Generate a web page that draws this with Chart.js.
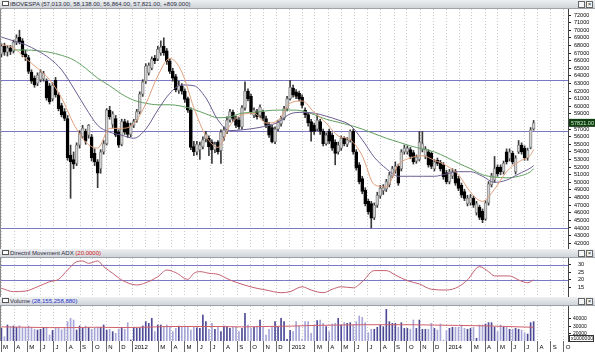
<!DOCTYPE html>
<html>
<head>
<meta charset="utf-8">
<title>IBOVESPA weekly</title>
<script src="https://cdn.jsdelivr.net/npm/chart.js@4.4.2/dist/chart.umd.min.js"></script>
<style>
  html, body { margin: 0; padding: 0; background: #fff; }
  body { width: 595px; height: 352px; position: relative; overflow: hidden; font-family: 'Liberation Sans', Arial, sans-serif; }
  .hdr { position: absolute; left: 0; width: 595px; height: 8px; background: linear-gradient(#eef0f2, #d0d4d8); border-bottom: 1px solid #9ea3a8; font-size: 6px; line-height: 8px; color: #2c2c44; white-space: nowrap; }
  .hdr .ico { display: inline-block; width: 5px; height: 3px; border: 1px solid #555; background: #fff; margin: 0 1px 0 2px; vertical-align: 0; }
  .hdr .btn { position: absolute; top: 1px; width: 5px; height: 5px; border: 1px solid #666; background: #f6f6f6; font-size: 6px; line-height: 5px; text-align: center; color: #222; }
  .red { color: #d02020; }
  .blue { color: #2233cc; }
  canvas { position: absolute; left: 0; }
</style>
</head>
<body>
<div class="hdr" style="top:0"><span class="ico"></span>IBOVESPA (57,013.00, 58,138.00, 56,864.00, 57,821.00, +809.000)<span class="btn" style="left:578px"></span><span class="btn" style="left:586px">×</span></div>
<canvas id="priceChart" width="595" height="240" style="top:9px"></canvas>
<div class="hdr" style="top:249px"><span class="ico"></span>Directnl Movement ADX <span class="red">(20.0000)</span><span class="btn" style="left:578px"></span><span class="btn" style="left:586px">×</span></div>
<canvas id="adxChart" width="595" height="39" style="top:258px"></canvas>
<div class="hdr" style="top:297px"><span class="ico"></span>Volume <span class="blue">(28,155,258,880)</span><span class="btn" style="left:578px"></span><span class="btn" style="left:586px">×</span></div>
<canvas id="volumeChart" width="595" height="46" style="top:306px"></canvas>

<script>
// weekly candles, first week starts Mon 28 Feb 2011
const opens = [
  66900,67900,67100,67700,67300,68400,69100,68600,66900,66400,
  64500,63700,63000,63500,63600,63300,62700,61000,63400,61500,
  60100,59300,58400,53600,53000,52500,54900,56000,56700,56200,
  56000,53800,52700,51800,54000,55100,59500,57600,58400,56600,
  55000,58000,57800,56300,57500,58200,59300,61600,63300,64400,
  65000,66300,66200,67000,67900,67300,65900,64600,63900,62100,
  62700,62000,61000,59500,54700,54000,54300,54700,55700,55800,
  55300,54300,55300,54200,56000,56700,58200,59200,58400,58200,
  57300,59800,62000,61300,58800,59300,58800,59200,58400,57600,
  57200,55300,57000,57700,58400,59700,61000,62400,61900,61700,
  61200,59500,58900,58000,57500,57000,58000,56700,55100,56700,
  56200,55300,54000,54500,55800,55000,55600,56700,54000,52300,
  50500,49000,47500,47200,45400,47000,48200,48900,49100,49700,
  50800,51600,52100,51800,54000,54000,54300,53900,52800,53000,
  54300,53400,54000,53800,51800,52900,52600,52300,51300,50100,
  50800,51400,50500,49600,48800,47200,47300,47900,46000,46700,
  46200,45200,47300,49700,50300,52000,52000,51400,54000,53100,
  53800,51400,54000,54900,54500,53200,54600,57013
];
const highs = [
  68200,68300,68000,68000,68700,69400,70000,68900,67400,66700,
  64800,64000,64400,64800,64600,63600,63000,63100,63800,61800,
  60400,59700,58800,54900,54000,55200,56800,57500,57000,57600,
  56300,54400,53000,54300,55500,59700,60000,59300,58800,56900,
  58300,58300,58100,57800,58300,59600,61900,63500,65600,65700,
  66500,66700,67900,68600,69000,67600,66200,65000,64200,63300,
  63000,62300,61200,59800,55400,55400,55300,56000,56700,56100,
  55600,55300,55500,56900,57300,58600,59600,59500,58700,58500,
  60100,63200,62300,61600,59800,59600,60200,59500,58700,57900,
  57500,57300,58200,58700,60000,61300,63400,62800,62200,62000,
  61500,59800,59200,58300,57800,58900,58300,57000,56500,57000,
  56500,55600,55300,56100,56000,55900,56900,57000,54300,52600,
  50800,49300,47800,47500,47300,48700,49600,49700,50400,51300,
  52100,52700,52400,54300,54900,54800,54600,54200,53600,56700,
  56700,54700,54300,54000,53000,53200,52900,52600,51600,51700,
  51800,51700,50800,49900,49100,48300,48400,48200,47500,47000,
  46500,47600,50100,51200,53400,52300,52300,52800,54400,54400,
  54100,53500,55500,55200,54800,54500,57200,58138
];
const lows = [
  66500,66700,66600,66800,67000,68100,68200,66500,66000,64300,
  63000,62500,62700,63200,63300,60800,60300,60700,61200,59400,
  58600,58100,52900,47900,51800,52200,54500,55800,55000,55800,
  52800,52200,49300,51200,53700,54900,58300,57200,56000,54600,
  54800,56300,55900,56000,57200,57900,59000,61300,63000,64100,
  64800,65600,66000,66700,66700,65500,64300,63300,61900,61700,
  61600,60500,59200,54300,53500,53600,53000,54400,55300,53500,
  52500,53900,53700,52500,55500,56400,57900,58000,57200,57000,
  57000,59500,60700,59000,58500,58300,58500,58100,57200,55900,
  55200,55100,56800,57400,58200,59400,60800,61200,61000,60700,
  59800,58500,57400,55400,56300,56800,56300,54800,54900,55100,
  54200,52300,53700,54200,54800,54700,55300,53700,51600,49800,
  48500,46900,45800,44000,45100,46700,47900,48400,48800,49400,
  50600,51200,49600,51500,53700,53700,53100,52400,52500,52800,
  54000,53100,52000,51800,51500,52200,51500,50400,49800,49800,
  50500,49600,48900,48000,47600,46900,47000,46700,45700,45100,
  44700,45000,47000,49400,50000,50800,51000,51100,52400,52800,
  52400,51100,53800,53700,52900,52900,54400,56864
];
const closes = [
  67900,67100,67700,67200,68400,69000,68500,66800,66500,64600,
  63300,62800,64100,64500,64300,61100,60600,62800,61500,59700,
  58900,58400,53200,52700,52400,54900,56400,57100,55400,57500,
  53200,52700,51200,54000,55100,59500,58600,59000,56200,54900,
  58000,56600,56300,57500,58000,59300,61600,63200,65300,65400,
  66200,66000,67500,67800,67000,65900,64600,63700,62200,62800,
  62000,60900,59500,54600,54000,55000,54900,55600,56300,54700,
  54300,55000,54000,56600,56900,58200,59300,58400,57500,57300,
  59800,62000,61000,59300,59500,58600,59900,58400,57500,56200,
  55300,57000,57900,58400,59700,61000,62500,61500,61300,61000,
  60100,58900,57800,56700,56700,58200,56700,55100,56200,55400,
  54500,53800,54900,55800,55100,55600,56700,54000,51900,50100,
  48800,47200,46100,45300,47000,48300,49200,49300,50100,51000,
  51800,52100,49900,54000,54500,54500,53400,52700,53300,55300,
  55100,54400,52300,52100,52700,52500,51800,50700,50100,51400,
  51400,49900,49200,48300,47900,47900,48000,47000,47200,45400,
  45100,47300,49800,50900,51800,51100,51400,52500,52700,54000,
  52700,53200,54900,54000,53200,54200,56900,57821
];
// weekly volume, millions
const volumes = [
  27000,15300,31600,29000,30200,28400,30600,27500,28400,30200,
  28400,25600,24600,25600,27000,28400,17600,24000,26900,26900,
  25000,26900,36300,40900,38600,24600,30200,26900,30200,28400,
  25600,27000,28400,28400,31600,24600,25600,22300,20000,26000,
  28400,25600,34900,10600,28400,26900,27500,30200,36300,33900,
  40900,22300,31600,31600,29000,31600,28400,22300,26900,30200,
  28400,30200,28400,24600,28400,27500,26900,45600,36300,25600,
  34000,25600,28400,22300,30200,29300,27000,28400,28400,22300,
  26900,47900,31600,26900,28400,30000,38600,28400,17600,25600,
  28400,36300,29300,40900,36300,11600,24000,22300,36300,30200,
  12000,36300,36300,19900,31600,37700,38600,33900,29300,22300,
  33000,33900,40900,31600,34900,33900,34900,31600,36300,44200,
  42300,34900,20900,25600,25600,28400,31600,29300,53500,36300,
  33900,33900,28400,34900,26900,26900,25600,38600,26900,38600,
  25600,25600,25600,33900,26900,24600,33000,10600,23700,26900,
  28400,28400,28400,31600,26900,25600,26900,28400,13000,31600,
  31600,33000,34900,34900,28400,22300,31600,28400,28400,25600,
  25600,26900,25600,24600,20900,19000,34900,36300
];

// moving averages every 4 weeks
const maWeeks = [0,4,8,12,16,20,24,28,32,36,40,44,48,52,56,60,64,68,72,76,80,84,88,92,96,100,104,108,112,116,120,124,128,132,136,140,144,148,152,156,160,164,168,172,176,177];
const maFast = [68100,67700,66300,65000,63500,61100,57700,55300,54500,57100,57100,57700,60300,64000,66300,64500,59800,56100,54600,57500,58900,59100,57800,58100,60400,60700,59200,57800,56100,55600,53500,49700,49400,52300,53200,53500,52900,52200,51000,48700,47500,49100,51400,52700,53600,54300];
const maMid = [69100,68600,68100,67300,66300,64800,62400,59800,57500,56600,56200,55800,57000,59500,61700,62800,62700,61100,58200,56800,56900,57100,57400,57900,59000,59200,59100,58700,58200,57500,55600,53300,51800,50800,50800,50800,50800,51100,51400,51400,50800,50000,50300,51100,51900,52200];
const maSlow = [null,67400,67400,67300,67100,66700,66100,65000,63700,62700,61600,60800,60400,60200,60200,60000,59600,59000,58500,58600,59100,59200,59400,59500,59500,59400,58900,58300,57900,57500,57000,56400,55800,55300,54800,54400,54000,53300,52500,51800,51000,50700,50600,50800,51400,51800];

const adxWeeks = [0,4,8,12,16,19,22,25,27,29,32,34,37,40,45,48,52,55,58,62,64,66,69,72,76,80,84,88,93,96,100,103,107,110,113,117,120,124,128,131,135,139,143,148,152,155,159,162,164,169,172,175,177];
const adxValues = [14.3,12,12.4,15.3,18.7,20.3,26.6,32.2,32.7,31.1,32.7,28.9,24.4,19.9,16.5,18,22.1,26.6,24.8,20.3,24.4,25.5,24.4,23.7,19.9,17,14.7,13.1,11.3,12,15.3,13.1,11.3,13.6,15.3,14.6,18.7,26.2,26.2,23.2,19.4,17.2,13.6,13.1,15.3,20,28.9,25.5,22.6,22.6,19.9,18,20];

const volMaWeeks = [0,8,16,24,32,40,48,56,64,72,80,88,96,104,112,120,128,136,144,152,160,168,176,177];
const volMaValues = [29000,28500,28000,28000,28500,28000,28500,29500,29500,29500,29000,29500,30000,31000,31500,32000,32000,32000,31500,31000,30500,29500,28500,28400];

const priceLevels = [63400, 56750, 44000];
const adxLevels = [30, 20];
const priceTicks = [42000,43000,44000,45000,46000,47000,48000,49000,50000,51000,52000,53000,54000,55000,56000,57000,58000,59000,60000,61000,62000,63000,64000,65000,66000,67000,68000,69000,70000,71000,72000];
const adxTicks = [15, 20, 25, 30];
const volumeTicks = [20000, 30000, 40000];
const monthLetters = ['J','F','M','A','M','J','J','A','S','O','N','D'];

const FONT = 'Liberation Sans';
const DAY0 = Date.UTC(2011, 2, 1);
const WEEK0 = Date.UTC(2011, 1, 28);
const X_MAX = 1320;
const dayOf = w => (WEEK0 + (w * 7 + 2) * 864e5 - DAY0) / 864e5;

const months = [];
for (let k = 0; k < 44; k++) {
  const d = new Date(Date.UTC(2011, 2 + k, 1));
  months.push({ value: (d - DAY0) / 864e5, m: d.getUTCMonth(), y: d.getUTCFullYear() });
}
const monthLabel = i => {
  const t = months[i];
  if (!t) return '';
  if (t.m === 0) return String(t.y);
  if (t.m === 1) return '';
  return monthLetters[t.m];
};

function xAxis(withLabels) {
  return {
    type: 'linear', min: 0, max: X_MAX, offset: false,
    afterBuildTicks: s => { s.ticks = months.map(t => ({ value: t.value })); },
    grid: {
      offset: false, color: '#c8c8c8', lineWidth: 1,
      drawTicks: withLabels, tickLength: 11, tickWidth: 1,
      tickColor: c => (months[c.index] && months[c.index].m === 1) ? 'rgba(0,0,0,0)' : '#6a6a6a'
    },
    border: { display: false, dash: [1, 2] },
    ticks: {
      display: withLabels, autoSkip: false, maxRotation: 0, minRotation: 0,
      align: 'start', padding: -8, labelOffset: 2,
      font: { family: FONT, size: 6 }, color: '#000',
      callback: (v, i) => monthLabel(i)
    },
    afterFit: s => {
      s.height = withLabels ? 11 : 0;
      s.paddingLeft = 0; s.paddingRight = 0; s.paddingTop = 0; s.paddingBottom = 0;
    }
  };
}

function yAxis(min, max, ticks, pad, size) {
  return {
    position: 'right', min: min, max: max,
    afterBuildTicks: s => { s.ticks = ticks.map(v => ({ value: v })); },
    grid: { drawOnChartArea: false, drawTicks: true, tickLength: 3, tickColor: '#222' },
    border: { display: true, color: '#444', width: 1 },
    ticks: { autoSkip: false, font: { family: FONT, size: size }, color: '#000', padding: pad, callback: v => String(v) },
    afterFit: s => {
      s.width = 27;
      s.paddingTop = 0; s.paddingBottom = 0; s.paddingLeft = 0; s.paddingRight = 0;
    }
  };
}

const levelLines = {
  id: 'levelLines',
  beforeDatasetsDraw(chart, args, opts) {
    const { ctx, chartArea, scales: { y } } = chart;
    ctx.save();
    ctx.strokeStyle = '#7c78c6';
    ctx.lineWidth = 1;
    for (const v of opts.values || []) {
      const py = Math.round(y.getPixelForValue(v)) + 0.5;
      ctx.beginPath();
      ctx.moveTo(chartArea.left, py);
      ctx.lineTo(chartArea.right, py);
      ctx.stroke();
    }
    ctx.restore();
  },
  afterDraw(chart) {
    const { ctx, chartArea } = chart;
    ctx.save();
    ctx.strokeStyle = '#8a8a8a';
    ctx.lineWidth = 1;
    ctx.beginPath();
    ctx.moveTo(chartArea.left - 0.5, chartArea.top);
    ctx.lineTo(chartArea.left - 0.5, chartArea.bottom);
    ctx.stroke();
    ctx.restore();
  }
};

const lastPriceTag = {
  id: 'lastPriceTag',
  afterDraw(chart) {
    const { ctx, chartArea, scales: { y } } = chart;
    const last = closes[closes.length - 1];
    const py = y.getPixelForValue(last);
    ctx.save();
    ctx.fillStyle = '#133d13';
    ctx.fillRect(chartArea.right + 1, py - 4, 26, 8);
    ctx.fillStyle = '#c4f4c4';
    ctx.font = '5.5px ' + FONT;
    ctx.textBaseline = 'middle';
    ctx.fillText(last.toFixed(2), chartArea.right + 3, py + 0.5);
    ctx.restore();
  }
};

const unitTag = {
  id: 'unitTag',
  afterDraw(chart) {
    const { ctx, chartArea } = chart;
    ctx.save();
    ctx.fillStyle = '#fff';
    ctx.strokeStyle = '#333';
    ctx.lineWidth = 1;
    ctx.fillRect(chartArea.right + 1.5, chartArea.bottom - 5.5, 24, 6);
    ctx.strokeRect(chartArea.right + 1.5, chartArea.bottom - 5.5, 24, 6);
    ctx.fillStyle = '#000';
    ctx.font = '5px ' + FONT;
    ctx.textBaseline = 'middle';
    ctx.fillText('x1000000', chartArea.right + 3, chartArea.bottom - 2.3);
    ctx.restore();
  }
};

const isUp = closes.map((c, i) => c >= opens[i]);
const common = {
  responsive: false, animation: false, devicePixelRatio: 1,
  layout: { padding: { left: 1, right: 0, top: 0, bottom: 0 } },
  events: []
};
const noLegend = { legend: { display: false }, tooltip: { enabled: false } };

new Chart(document.getElementById('priceChart'), {
  type: 'bar',
  data: {
    datasets: [
      {
        type: 'line', label: 'fast', order: 0,
        data: maWeeks.map((w, i) => ({ x: dayOf(w), y: maFast[i] })),
        borderColor: '#e0a07c', borderWidth: 1, pointRadius: 0, cubicInterpolationMode: 'monotone'
      },
      {
        type: 'line', label: 'mid', order: 0,
        data: maWeeks.map((w, i) => ({ x: dayOf(w), y: maMid[i] })),
        borderColor: '#6d5d92', borderWidth: 1, pointRadius: 0, cubicInterpolationMode: 'monotone'
      },
      {
        type: 'line', label: 'slow', order: 0,
        data: maWeeks.map((w, i) => ({ x: dayOf(w), y: maSlow[i] })),
        borderColor: '#5f9e5f', borderWidth: 1, pointRadius: 0, cubicInterpolationMode: 'monotone'
      },
      {
        label: 'body', order: 1, grouped: false,
        data: opens.map((o, i) => ({ x: dayOf(i), y: [o, closes[i]] })),
        backgroundColor: isUp.map(u => u ? '#d2d2d2' : '#000'),
        borderColor: isUp.map(u => u ? '#8a8a8a' : '#000'),
        borderWidth: 1, borderSkipped: false, barThickness: 3, minBarLength: 1
      },
      {
        label: 'wick', order: 2, grouped: false,
        data: lows.map((l, i) => ({ x: dayOf(i), y: [l, highs[i]] })),
        backgroundColor: '#3a3a3a', barThickness: 1
      }
    ]
  },
  options: {
    ...common,
    plugins: { ...noLegend, levelLines: { values: priceLevels } },
    scales: { x: xAxis(false), y: yAxis(41238, 72790, priceTicks, 3, 5.5) }
  },
  plugins: [levelLines, lastPriceTag]
});

new Chart(document.getElementById('adxChart'), {
  type: 'line',
  data: {
    datasets: [{
      data: adxWeeks.map((w, i) => ({ x: dayOf(w), y: adxValues[i] })),
      borderColor: '#c4606e', borderWidth: 1, pointRadius: 0, cubicInterpolationMode: 'monotone'
    }]
  },
  options: {
    ...common,
    plugins: { ...noLegend, levelLines: { values: adxLevels } },
    scales: { x: xAxis(false), y: yAxis(8.4, 34.7, adxTicks, 7, 5.5) }
  },
  plugins: [levelLines]
});

new Chart(document.getElementById('volumeChart'), {
  type: 'bar',
  data: {
    datasets: [
      {
        type: 'line', order: 0,
        data: volMaWeeks.map((w, i) => ({ x: dayOf(w), y: volMaValues[i] })),
        borderColor: '#d0606c', borderWidth: 1, pointRadius: 0, cubicInterpolationMode: 'monotone'
      },
      {
        order: 1, grouped: false,
        data: volumes.map((v, i) => ({ x: dayOf(i), y: v })),
        backgroundColor: isUp.map(u => u ? '#4c4a96' : '#a6a6d8'),
        barThickness: 1
      }
    ]
  },
  options: {
    ...common,
    plugins: { ...noLegend, levelLines: { values: [] } },
    scales: { x: xAxis(true), y: yAxis(9230, 58180, volumeTicks, 2, 5) }
  },
  plugins: [levelLines, unitTag]
});
</script>
</body>
</html>
